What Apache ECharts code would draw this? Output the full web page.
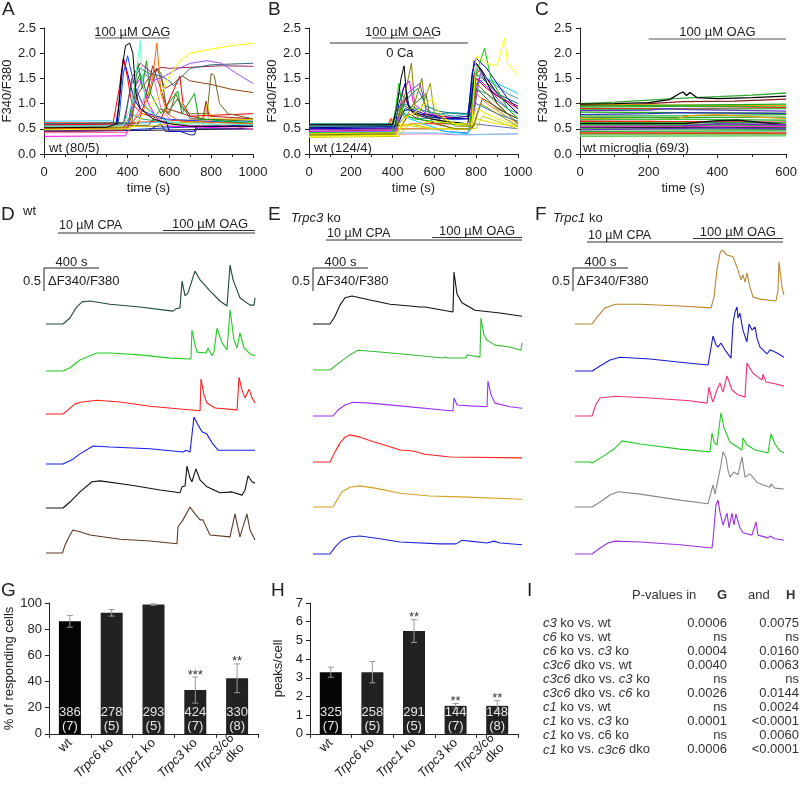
<!DOCTYPE html>
<html><head><meta charset="utf-8">
<script src="https://cdn.jsdelivr.net/npm/echarts@6/dist/echarts.min.js"></script>
<style>html,body{margin:0;padding:0;background:#fff}#c{width:800px;height:788px}</style>
</head><body><div id="c"></div>
<script>
// ===== DATA =====
// Panel A: F340/F380 vs time (s)
const aTraces = [
 [[0,0.55],[1000,0.55]],
 [[0,0.45],[500,0.47],[1000,0.5]],
 [[0,0.62],[400,0.62],[600,0.66],[1000,0.7]],
 [[0,0.47],[400,0.48],[600,0.52],[1000,0.58]],
 [[0,0.53],[380,0.54],[420,0.8],[460,0.7],[600,0.62],[1000,0.62]],
 [[0,0.65],[320,0.66],[340,0.6],[500,0.62],[1000,0.65]],
 [[0,0.35],[390,0.36],[400,0.48],[430,1.3],[460,1.5],[500,1.0],[540,0.7],[600,0.55],[1000,0.5]],
 [[0,0.45],[500,0.47],[560,0.6],[580,0.45],[650,0.45],[700,0.38],[720,0.38],[730,0.5],[1000,0.5]],
 [[0,0.48],[340,0.5],[360,1.0],[380,1.9],[400,1.6],[430,1.1],[460,0.9],[500,0.8],[580,0.7],[600,0.45],[720,0.45],[730,0.55],[1000,0.55]],
 [[0,0.5],[350,0.52],[360,0.75],[380,1.6],[400,1.95],[430,1.4],[470,1.0],[550,0.7],[1000,0.6]],
 [[0,0.42],[400,0.43],[470,1.0],[520,1.6],[560,0.9],[620,0.6],[760,0.55],[775,1.0],[790,0.6],[1000,0.5]],
 [[0,0.58],[450,0.6],[480,1.0],[520,1.75],[550,1.4],[590,0.9],[700,0.75],[760,0.7],[775,1.05],[790,0.75],[1000,0.7]],
 [[0,0.52],[500,0.55],[600,0.6],[760,0.65],[780,1.0],[800,0.7],[1000,0.68]],
 [[0,0.6],[420,0.6],[440,1.4],[460,1.6],[500,1.1],[540,1.7],[560,1.6],[590,0.8],[640,1.1],[700,0.7],[1000,0.65]],
 [[0,0.5],[400,0.52],[430,1.2],[450,1.8],[470,1.3],[490,1.85],[510,1.2],[560,0.8],[640,1.25],[660,0.8],[720,1.2],[740,0.7],[1000,0.6]],
 [[0,0.57],[330,0.6],[360,1.3],[380,1.9],[400,1.5],[420,1.0],[470,0.8],[560,0.7],[650,1.55],[665,1.0],[700,0.75],[1000,0.8]],
 [[0,0.55],[500,0.57],[560,0.9],[600,0.8],[630,1.2],[660,0.9],[700,0.8],[780,0.8],[800,1.6],[815,1.55],[840,1.0],[880,0.8],[1000,0.7]],
 [[0,0.5],[400,0.5],[450,1.2],[500,1.5],[540,1.7],[580,1.3],[620,1.4],[660,1.55],[700,1.45],[800,1.38],[900,1.28],[1000,1.22]],
 [[0,0.45],[380,0.47],[420,1.5],[460,1.8],[520,1.6],[560,1.72],[600,1.7],[700,1.72],[850,1.75],[1000,1.74]],
 [[0,0.6],[380,0.62],[420,1.4],[460,1.7],[500,1.6],[560,1.55],[600,1.45],[620,1.35],[650,1.5],[700,1.7],[800,1.77],[1000,1.8]],
 [[0,0.55],[400,0.57],[450,1.3],[480,1.6],[520,1.45],[580,1.55],[620,1.65],[700,1.8],[780,1.85],[850,1.8],[920,1.6],[1000,1.4]],
 [[0,0.5],[400,0.52],[480,0.9],[520,1.5],[540,2.2],[560,1.2],[590,0.8],[650,0.65],[1000,0.6]],
 [[0,0.55],[380,0.56],[420,1.0],[450,1.9],[460,2.25],[470,1.5],[490,0.9],[550,0.7],[650,0.6],[1000,0.58]],
 [[0,0.48],[420,0.5],[500,0.9],[560,1.2],[600,1.55],[650,1.85],[700,2.0],[800,2.08],[900,2.15],[1000,2.2]],
 [[0,0.52],[300,0.53],[350,0.6],[370,1.6],[390,2.15],[410,2.2],[425,2.0],[440,1.2],[460,0.9],[520,0.7],[600,0.6],[700,0.55],[1000,0.55]]
];
// Panel B
const bTraces = [
 [[0,0.38],[620,0.4],[700,0.38],[1000,0.4]],
 [[0,0.42],[600,0.42],[760,0.38],[1000,0.4]],
 [[0,0.5],[600,0.5],[650,0.45],[760,0.42],[790,0.6],[1000,0.5]],
 [[0,0.45],[430,0.48],[480,0.8],[520,0.7],[700,0.5],[780,0.5],[830,1.1],[950,0.8],[1000,0.7]],
 [[0,0.4],[380,0.42],[395,0.72],[410,0.5],[500,0.5],[770,0.5],[800,1.2],[850,1.0],[1000,0.6]],
 [[0,0.5],[370,0.5],[390,0.7],[410,0.55],[500,0.6],[770,0.6],[790,1.5],[820,1.7],[880,1.3],[960,1.0],[1000,0.9]],
 [[0,0.43],[410,0.45],[440,0.9],[480,0.7],[650,0.45],[760,0.4],[800,1.4],[850,1.5],[950,1.3],[1000,1.2]],
 [[0,0.45],[420,0.46],[450,1.3],[480,1.45],[500,1.0],[560,0.8],[700,0.7],[780,0.7],[810,1.5],[860,1.3],[950,1.0],[1000,0.8]],
 [[0,0.48],[420,0.5],[470,1.2],[530,1.4],[560,0.9],[650,0.6],[780,0.6],[820,1.6],[900,1.1],[1000,0.7]],
 [[0,0.55],[410,0.56],[460,1.1],[500,0.8],[760,0.7],[800,1.5],[850,1.3],[920,1.1],[1000,0.95]],
 [[0,0.52],[420,0.54],[450,0.85],[500,0.9],[560,0.85],[620,0.8],[700,0.82],[760,0.8],[790,1.3],[850,1.2],[950,0.9],[1000,0.8]],
 [[0,0.55],[420,0.56],[460,0.75],[520,0.7],[600,0.72],[700,0.68],[760,0.7],[800,1.0],[900,0.8],[1000,0.65]],
 [[0,0.52],[420,0.55],[460,0.9],[560,0.75],[650,0.7],[760,0.75],[790,1.85],[820,1.7],[900,1.2],[1000,0.8]],
 [[0,0.55],[410,0.56],[450,1.0],[520,0.9],[600,0.8],[700,0.75],[760,0.8],[800,1.7],[880,1.4],[950,1.2],[1000,1.1]],
 [[0,0.6],[400,0.6],[430,1.2],[470,1.1],[520,1.3],[560,0.95],[620,0.85],[700,0.8],[760,0.8],[790,1.6],[830,1.5],[900,1.2],[1000,1.0]],
 [[0,0.5],[410,0.52],[430,1.0],[460,1.4],[480,0.9],[550,0.8],[650,0.7],[760,0.7],[780,1.6],[800,1.9],[850,1.7],[950,1.1],[1000,0.9]],
 [[0,0.58],[400,0.58],[440,1.0],[480,0.9],[560,1.2],[580,0.7],[700,0.6],[770,0.6],[800,1.3],[900,0.9],[1000,0.7]],
 [[0,0.42],[400,0.42],[430,1.4],[450,0.8],[500,0.7],[770,0.55],[800,1.6],[840,2.1],[870,1.5],[950,0.9],[1000,0.7]],
 [[0,0.58],[400,0.58],[420,0.9],[440,1.5],[455,1.75],[470,1.0],[500,0.8],[580,0.7],[650,0.65],[760,0.6],[780,1.2],[800,1.8],[830,1.6],[900,1.0],[1000,0.6]],
 [[0,0.33],[430,0.35],[480,0.6],[600,0.5],[800,0.5],[830,0.75],[1000,0.5]],
 [[0,0.38],[420,0.4],[450,0.55],[520,0.6],[600,0.65],[700,0.6],[770,0.55],[800,0.9],[900,0.7],[1000,0.55]],
 [[0,0.4],[420,0.42],[450,0.6],[500,0.55],[600,0.5],[770,0.5],[800,0.7],[900,0.6],[1000,0.55]],
 [[0,0.36],[420,0.38],[440,0.9],[460,0.7],[500,1.0],[520,0.7],[580,1.4],[600,0.8],[700,0.55],[790,0.55],[820,1.0],[1000,0.55]],
 [[0,0.38],[410,0.4],[430,0.8],[460,1.2],[490,1.8],[505,1.0],[540,1.5],[560,0.8],[600,0.6],[700,0.5],[770,0.5],[800,1.4],[850,1.2],[950,0.8],[1000,0.6]],
 [[0,0.35],[420,0.37],[450,0.7],[500,0.8],[560,1.0],[590,1.1],[610,0.9],[650,0.7],[700,0.6],[780,0.6],[800,1.95],[850,1.8],[900,1.75],[935,2.3],[950,1.8],[1000,1.55]]
];
// Panel C (microglia)
const cTraces = [
 [[0,1.0],[100,1.03],[200,1.07],[300,1.11],[400,1.14],[500,1.17],[600,1.21]],
 [[0,0.96],[150,0.98],[300,1.04],[450,1.05],[600,1.09]],
 [[0,0.98],[300,0.97],[600,0.96]],
 [[0,0.95],[600,0.99]],
 [[0,0.93],[200,0.94],[400,0.95],[600,0.93]],
 [[0,0.9],[300,0.9],[600,0.92]],
 [[0,0.88],[600,0.9]],
 [[0,0.86],[200,0.87],[250,0.9],[320,0.88],[600,0.85]],
 [[0,0.83],[300,0.82],[600,0.81]],
 [[0,0.78],[200,0.8],[300,0.82],[600,0.8]],
 [[0,0.75],[300,0.76],[600,0.78]],
 [[0,0.72],[600,0.73]],
 [[0,0.71],[200,0.68],[280,0.7],[320,0.76],[400,0.78],[500,0.74],[600,0.7]],
 [[0,0.68],[300,0.69],[600,0.67]],
 [[0,0.65],[600,0.63]],
 [[0,0.62],[600,0.62]],
 [[0,0.6],[300,0.6],[400,0.66],[460,0.67],[600,0.58]],
 [[0,0.58],[600,0.57]],
 [[0,0.55],[300,0.56],[400,0.6],[600,0.58]],
 [[0,0.54],[600,0.55]],
 [[0,0.52],[300,0.53],[600,0.52]],
 [[0,0.5],[600,0.49]],
 [[0,0.48],[200,0.5],[400,0.52],[600,0.5]],
 [[0,0.45],[600,0.46]],
 [[0,0.42],[300,0.42],[600,0.42]],
 [[0,0.4],[250,0.4],[350,0.41],[600,0.4]],
 [[0,0.38],[600,0.38]],
 [[0,0.35],[600,0.36]],
 [[0,0.99],[100,1.0],[200,1.02],[260,1.08],[290,1.2],[300,1.23],[310,1.16],[320,1.22],[340,1.12],[400,1.1],[500,1.12],[600,1.15]]
];
// Panels D-F: ΔF340/F380 vs time (s)
const dTraces = [
 [[0,0],[124,0],[174,0.13],[218,0.35],[262,0.48],[320,0.50],[465,0.43],[683,0.37],[923,0.28],[945,0.33],[974,0.35],[989,0.93],[1011,0.61],[1032,0.67],[1083,1.15],[1120,0.96],[1192,0.72],[1265,0.50],[1316,0.39],[1330,0.41],[1338,1.28],[1360,0.96],[1410,0.57],[1483,0.41],[1512,0.41],[1520,0.57]],
 [[0,0],[124,0],[174,0.07],[247,0.24],[320,0.33],[371,0.39],[465,0.39],[683,0.35],[901,0.28],[1054,0.26],[1061,0.89],[1083,0.57],[1098,0.41],[1163,0.39],[1178,0.50],[1207,0.33],[1221,0.41],[1243,0.93],[1280,0.61],[1316,0.46],[1330,0.46],[1338,1.33],[1367,0.67],[1389,0.50],[1410,0.83],[1440,0.50],[1483,0.37],[1520,0.33]],
 [[0,0],[124,0],[160,0.09],[211,0.22],[262,0.26],[371,0.30],[538,0.26],[756,0.17],[974,0.11],[1120,0.07],[1127,0.76],[1149,0.41],[1170,0.24],[1229,0.13],[1389,0.09],[1403,0.80],[1425,0.52],[1447,0.35],[1476,0.54],[1498,0.35],[1520,0.24]],
 [[0,0],[124,0],[189,0.09],[247,0.22],[342,0.39],[465,0.37],[756,0.33],[996,0.26],[1018,0.30],[1047,0.26],[1076,1.02],[1105,0.85],[1134,0.70],[1170,0.65],[1207,0.46],[1251,0.30],[1374,0.30],[1520,0.30]],
 [[0,0],[124,0],[174,0.13],[247,0.35],[334,0.57],[393,0.59],[611,0.50],[829,0.39],[974,0.33],[989,0.46],[1011,0.48],[1025,0.91],[1047,0.65],[1061,0.57],[1090,0.85],[1120,0.61],[1170,0.46],[1265,0.33],[1352,0.35],[1425,0.28],[1447,0.39],[1469,0.70],[1498,0.57],[1520,0.54]],
 [[0,0],[120,0],[138,0.17],[174,0.39],[196,0.50],[247,0.46],[320,0.39],[538,0.30],[756,0.26],[952,0.20],[960,0.57],[996,0.72],[1047,1.00],[1083,0.85],[1120,0.72],[1141,0.72],[1192,0.39],[1338,0.35],[1374,0.85],[1410,0.35],[1461,0.85],[1483,0.50],[1520,0.28]]
];
const eTraces = [
 [[0,0],[124,0],[160,0.17],[196,0.41],[233,0.57],[284,0.61],[414,0.52],[560,0.43],[705,0.39],[778,0.37],[792,0.41],[814,0.37],[1018,0.26],[1025,1.13],[1047,0.65],[1083,0.46],[1178,0.30],[1360,0.24],[1520,0.17]],
 [[0,0],[124,0],[196,0.17],[269,0.33],[327,0.43],[487,0.39],[705,0.33],[945,0.26],[960,0.28],[981,0.26],[1112,0.26],[1120,0.33],[1214,0.28],[1221,1.13],[1243,0.76],[1265,0.65],[1323,0.54],[1432,0.50],[1512,0.43],[1520,0.59]],
 [[0,0],[145,0],[182,0.13],[233,0.24],[291,0.30],[414,0.28],[632,0.22],[1018,0.11],[1025,0.39],[1047,0.24],[1141,0.22],[1265,0.20],[1272,0.76],[1294,0.46],[1323,0.28],[1432,0.20],[1520,0.17]],
 [[0,0],[124,0],[160,0.22],[196,0.41],[233,0.54],[269,0.59],[342,0.54],[451,0.43],[560,0.33],[632,0.26],[727,0.24],[814,0.17],[996,0.11],[1520,0.09]],
 [[0,0],[145,0],[174,0.15],[211,0.33],[269,0.43],[342,0.46],[451,0.41],[632,0.30],[851,0.24],[1069,0.22],[1520,0.17]],
 [[0,0],[124,0],[160,0.15],[211,0.30],[269,0.37],[342,0.39],[487,0.33],[632,0.26],[923,0.22],[1040,0.22],[1083,0.30],[1141,0.28],[1265,0.24],[1316,0.28],[1360,0.24],[1520,0.20]]
];
const fTraces = [
 [[0,0],[124,0],[167,0.17],[218,0.35],[291,0.43],[473,0.43],[763,0.39],[989,0.35],[1011,0.59],[1032,1.17],[1054,1.54],[1069,1.61],[1105,1.50],[1149,1.46],[1185,1.17],[1207,0.96],[1221,1.07],[1236,0.91],[1250,1.11],[1272,0.80],[1294,0.59],[1345,0.54],[1461,0.50],[1476,0.74],[1483,1.35],[1505,0.80],[1519,0.63]],
 [[0,0],[124,0],[182,0.11],[254,0.24],[327,0.30],[545,0.26],[836,0.17],[967,0.13],[1003,0.76],[1025,0.57],[1040,0.52],[1061,0.61],[1090,0.46],[1134,0.28],[1149,1.04],[1163,1.28],[1178,1.39],[1185,1.15],[1199,1.26],[1221,0.89],[1250,0.63],[1265,1.02],[1287,0.89],[1309,0.96],[1323,0.72],[1345,0.52],[1396,0.37],[1418,0.46],[1469,0.39],[1519,0.30]],
 [[0,0],[124,0],[153,0.26],[182,0.39],[291,0.43],[545,0.39],[836,0.33],[960,0.28],[974,0.63],[989,0.43],[1003,0.30],[1032,0.57],[1054,0.72],[1076,0.52],[1105,0.87],[1141,0.57],[1185,0.46],[1236,0.41],[1250,1.15],[1272,1.04],[1294,0.93],[1360,0.78],[1367,0.91],[1389,0.74],[1454,0.70],[1519,0.65]],
 [[0,0],[109,0],[124,-0.02],[218,0.15],[291,0.30],[342,0.46],[473,0.39],[763,0.28],[981,0.22],[996,0.63],[1011,0.43],[1032,0.37],[1061,1.07],[1083,0.74],[1127,0.43],[1214,0.26],[1221,0.52],[1250,0.37],[1309,0.26],[1403,0.20],[1425,0.61],[1454,0.39],[1490,0.24],[1519,0.20]],
 [[0,0],[124,0],[182,0.11],[254,0.26],[313,0.33],[473,0.28],[763,0.15],[967,0.07],[1003,0.48],[1018,0.28],[1032,0.26],[1061,0.91],[1076,1.20],[1098,1.07],[1112,0.80],[1127,0.65],[1156,0.76],[1185,0.70],[1214,1.09],[1236,0.65],[1272,0.72],[1323,0.54],[1367,0.48],[1418,0.43],[1425,0.50],[1454,0.41],[1519,0.39]],
 [[0,0],[124,0],[182,0.13],[240,0.24],[291,0.28],[473,0.26],[763,0.20],[996,0.13],[1003,0.30],[1025,1.07],[1040,1.17],[1054,0.91],[1076,0.63],[1105,0.89],[1120,0.57],[1141,0.89],[1156,0.63],[1170,0.87],[1199,0.57],[1221,0.46],[1287,0.41],[1316,0.70],[1330,0.41],[1403,0.35],[1418,0.39],[1454,0.33],[1519,0.30]]
];
// application periods (s)
const aOAG = [245, 600];
const bOAG = [300, 600];
const bZeroCa = [100, 760];
const cOAG = [200, 600];
const dCPA = [87, 1520], dOAG = [851, 1520];
const eCPA = [95, 1520], eOAG = [865, 1520];
const fCPA = [87, 1512], fOAG = [858, 1512];
const scaleBarTime = 400, scaleBarRatio = 0.5;
// Panels G, H
const groups = ['wt', 'Trpc6 ko', 'Trpc1 ko', 'Trpc3 ko', 'Trpc3/c6 dko'];
const respondMean = [86, 92.5, 98.8, 33.5, 42.5];
const respondErr = [4.5, 2.5, 0.5, 10, 11];
const respondCells = ['386', '278', '293', '424', '330'];
const respondMice = ['(7)', '(5)', '(5)', '(7)', '(8)'];
const respondStars = ['', '', '', '***', '**'];
const peaksMean = [3.3, 3.3, 5.5, 1.5, 1.5];
const peaksErr = [0.27, 0.57, 0.61, 0.13, 0.28];
const peaksCells = ['325', '258', '291', '144', '148'];
const peaksMice = ['(7)', '(5)', '(5)', '(7)', '(8)'];
const peaksStars = ['', '', '**', '**', '**'];
// Panel I
const pComparisons = ['{i|c3} ko vs. wt', '{i|c6} ko vs. wt', '{i|c6} ko vs. {i|c3} ko', '{i|c3c6} dko vs. wt', '{i|c3c6} dko vs. {i|c3} ko', '{i|c3c6} dko vs. {i|c6} ko', '{i|c1} ko vs. wt', '{i|c1} ko vs. {i|c3} ko', '{i|c1} ko vs. c6 ko', '{i|c1} ko vs. {i|c3c6} dko'];
const pValuesG = ['0.0006', 'ns', '0.0004', '0.0040', 'ns', '0.0026', 'ns', '0.0001', 'ns', '0.0006'];
const pValuesH = ['0.0075', 'ns', '0.0160', '0.0063', 'ns', '0.0144', '0.0024', '<0.0001', '0.0060', '<0.0001'];

// ===== STYLE / LAYOUT =====
const FONT = '"Liberation Sans", Arial, Helvetica, sans-serif';
const TXT = '#222';
const aColors = ['#666666','#222222','#ff3333','#0033cc','#33aa55','#33ccff','#ff00ff','#202080','#0000cc','#1144ff','#ff66aa','#aa2222','#ddcc00','#336633','#00aa00','#ff0000','#6b6b23','#8b4513','#a0205a','#2f6f7f','#9955ff','#ff6600','#66ffcc','#ffff00','#000000'];
const bColors = ['#ff77bb','#66ccff','#6666cc','#993300','#ff8800','#ff2222','#00ccff','#ff00ff','#8833cc','#990033','#1f9aa0','#2b7bb9','#000080','#3399aa','#008080','#0000cc','#2e6b2e','#00cc00','#000000','#cccc00','#e8e800','#e0e000','#999900','#808000','#ffff00'];
const cColors = ['#33aa33','#8b1a1a','#ffa500','#22aa22','#33aa33','#ee2222','#44bb44','#6633cc','#22aa22','#3333bb','#33aa33','#22aa22','#e6a117','#44bb44','#ee2222','#33aa33','#111111','#22aa22','#7722cc','#ff33cc','#222222','#33aa33','#6633cc','#22aa22','#ff2222','#aa5500','#66cc66','#66cc66','#000000'];
const dColors = ['#1e4a35','#22cc22','#ff2020','#1a1aee','#111111','#5b3b28'];
const eColors = ['#111111','#33bb33','#9933ff','#ff2222','#d4a020','#2222dd'];
const fColors = ['#b8862b','#1a1acc','#ee3377','#22cc22','#888888','#9933dd'];

const chart = echarts.init(document.getElementById('c'), null, {renderer: 'canvas'});

const grids = [], xAxes = [], yAxes = [], series = [];
function axisCommon() {
  return {
    axisLine: {show: true, onZero: false, lineStyle: {color: '#222', width: 1}},
    axisTick: {show: true, inside: false, length: 4, lineStyle: {color: '#222'}},
    axisLabel: {color: TXT, fontSize: 13, fontFamily: FONT},
    splitLine: {show: false},
    nameTextStyle: {color: TXT, fontSize: 13, fontFamily: FONT}
  };
}
// top panels
const topPanels = [
  {left: 44, max: 1000, traces: aTraces, colors: aColors},
  {left: 309, max: 1000, traces: bTraces, colors: bColors},
  {left: 580, max: 600, traces: cTraces, colors: cColors}
];
topPanels.forEach((p, i) => {
  grids.push({left: p.left, top: 28, width: 209, height: 126});
  xAxes.push(Object.assign(axisCommon(), {
    type: 'value', gridIndex: i, min: 0, max: p.max, interval: 200,
    minorTick: {show: true, splitNumber: 2, length: 3, lineStyle: {color: '#222'}},
    name: 'time (s)', nameLocation: 'middle', nameGap: 28,
    axisLabel: {color: TXT, fontSize: 13, fontFamily: FONT, margin: 12, formatter: v => String(v)}
  }));
  yAxes.push(Object.assign(axisCommon(), {
    type: 'value', gridIndex: i, min: 0, max: 2.5, interval: 0.5,
    name: 'F340/F380', nameLocation: 'middle', nameGap: 26,
    axisLabel: {color: TXT, fontSize: 13, fontFamily: FONT, margin: 8, formatter: v => v.toFixed(1)}
  }));
  p.traces.forEach((tr, k) => {
    series.push({type: 'line', xAxisIndex: i, yAxisIndex: i, data: tr, showSymbol: false, silent: true,
      lineStyle: {color: p.colors[k % p.colors.length], width: i === 2 ? 1.3 : 1}, animation: false});
  });
});
// trace panels D-F
const tracePanels = [
  {left: 46, base: [324, 371, 414, 464, 508, 553], traces: dTraces, colors: dColors},
  {left: 313, base: [324, 370, 416, 462, 507, 554], traces: eTraces, colors: eColors},
  {left: 575, base: [324, 371, 416, 462, 507, 554], traces: fTraces, colors: fColors}
];
const PXU = 46, TMAX = 1530, SPX = 7.27;
tracePanels.forEach(p => {
  p.traces.forEach((tr, k) => {
    const gi = grids.length;
    grids.push({left: p.left, top: p.base[k] - 1.7 * PXU, width: TMAX / SPX, height: 1.8 * PXU});
    xAxes.push({type: 'value', gridIndex: gi, min: 0, max: TMAX, show: false});
    yAxes.push({type: 'value', gridIndex: gi, min: -0.1, max: 1.7, show: false});
    series.push({type: 'line', xAxisIndex: gi, yAxisIndex: gi, data: tr, showSymbol: false, silent: true,
      lineStyle: {color: p.colors[k], width: 1.1}, animation: false});
  });
});
// bar panels G, H
const catLabel = v => {
  if (v === 'wt') return 'wt';
  if (v === 'Trpc3/c6 dko') return '{i|Trpc3/c6}\ndko';
  const parts = v.split(' ');
  return '{i|' + parts[0] + '} ' + parts[1];
};
const barPanels = [
  {left: 49, width: 209, max: 100, interval: 20, name: '% of responding cells', gap: 33, mean: respondMean, err: respondErr, cells: respondCells, mice: respondMice, stars: respondStars},
  {left: 310, width: 208, max: 7, interval: 1, name: 'peaks/cell', gap: 25, mean: peaksMean, err: peaksErr, cells: peaksCells, mice: peaksMice, stars: peaksStars}
];
barPanels.forEach(p => {
  const gi = grids.length;
  grids.push({left: p.left, top: 603, width: p.width, height: 138});
  xAxes.push(Object.assign(axisCommon(), {
    type: 'category', gridIndex: gi, data: groups,
    axisLabel: {color: TXT, fontSize: 13, fontFamily: FONT, rotate: 45, interval: 0, margin: 7,
      formatter: catLabel, lineHeight: 14, rich: {i: {fontStyle: 'italic', fontSize: 13, fontFamily: FONT, color: TXT}}}
  }));
  yAxes.push(Object.assign(axisCommon(), {
    type: 'value', gridIndex: gi, min: 0, max: p.max, interval: p.interval,
    name: p.name, nameLocation: 'middle', nameGap: p.gap,
    axisLabel: {color: TXT, fontSize: 13, fontFamily: FONT, margin: 7}
  }));
  series.push({type: 'bar', xAxisIndex: gi, yAxisIndex: gi, barWidth: 22, silent: true, animation: false,
    data: p.mean.map((m, i) => ({value: m, itemStyle: {color: i === 0 ? '#050505' : '#222222'}})),
    label: {show: true, position: 'insideBottom', distance: 0, color: '#e6e6e6', fontSize: 13, fontFamily: FONT, lineHeight: 14,
      formatter: q => p.cells[q.dataIndex] + '\n' + p.mice[q.dataIndex]}
  });
  series.push({type: 'custom', xAxisIndex: gi, yAxisIndex: gi, silent: true, animation: false, z: 5,
    data: p.mean.map((m, i) => [i, m, p.err[i]]),
    renderItem: (params, api) => {
      const x = api.value(0), m = api.value(1), e = api.value(2);
      const top = api.coord([x, m + e]), bot = api.coord([x, m - e]);
      const w = 3, st = {stroke: '#9a9a9a', lineWidth: 1};
      const ch = [
        {type: 'line', shape: {x1: top[0], y1: top[1], x2: bot[0], y2: bot[1]}, style: st},
        {type: 'line', shape: {x1: top[0] - w, y1: top[1], x2: top[0] + w, y2: top[1]}, style: st},
        {type: 'line', shape: {x1: bot[0] - w, y1: bot[1], x2: bot[0] + w, y2: bot[1]}, style: st}
      ];
      const s = p.stars[params.dataIndex];
      if (s) ch.push({type: 'text', style: {text: s, x: top[0], y: top[1] - 2, align: 'center', verticalAlign: 'middle', fill: '#333', fontSize: 13, fontFamily: FONT}});
      return {type: 'group', children: ch};
    }
  });
});

chart.setOption({animation: false, backgroundColor: '#fff', grid: grids, xAxis: xAxes, yAxis: yAxes, series: series});

// ===== annotations (graphic) =====
const G = [];
function txt(x, y, text, o) {
  o = o || {};
  G.push({type: 'text', x: x, y: y, silent: true, z: 50, style: Object.assign({
    text: text, fontSize: 13, fontFamily: FONT, fill: TXT,
    align: o.align || 'left', textAlign: o.align || 'left',
    verticalAlign: 'middle', textVerticalAlign: 'middle'}, o.style || {})});
}
function hline(x1, x2, y, color, w) {
  G.push({type: 'line', silent: true, z: 50, shape: {x1: x1, y1: y, x2: x2, y2: y}, style: {stroke: color || '#333', lineWidth: w || 1}});
}
function vline(x, y1, y2) {
  G.push({type: 'line', silent: true, z: 50, shape: {x1: x, y1: y1, x2: x, y2: y2}, style: {stroke: '#222', lineWidth: 1}});
}
const px = (gi, pt) => chart.convertToPixel({xAxisIndex: gi, yAxisIndex: gi}, pt);
const LBL = {fontSize: 19};
// panel letters
txt(2, 10, 'A', {style: LBL});
txt(268, 10, 'B', {style: LBL});
txt(535, 10, 'C', {style: LBL});
txt(1, 215, 'D', {style: LBL});
txt(268, 215, 'E', {style: LBL});
txt(535, 215, 'F', {style: LBL});
txt(1, 591, 'G', {style: LBL});
txt(271, 591, 'H', {style: LBL});
txt(527, 591, 'I', {style: LBL});
// top panel drug bars
function period(gi, rng) { const a = px(gi, [rng[0], 0])[0], b = px(gi, [rng[1], 0])[0]; return [a, b]; }
let r = period(0, aOAG); hline(r[0], r[1], 38, '#555'); txt((r[0] + r[1]) / 2, 32, '100 µM OAG', {align: 'center'});
r = period(1, bOAG); hline(r[0], r[1], 38, '#555'); txt((r[0] + r[1]) / 2, 32, '100 µM OAG', {align: 'center'});
r = period(1, bZeroCa); hline(r[0], r[1], 43, '#333'); txt((r[0] + r[1]) / 2 + 1, 53, '0 Ca', {align: 'center'});
r = period(2, cOAG); hline(r[0], r[1], 39, '#555'); txt((r[0] + r[1]) / 2, 32, '100 µM OAG', {align: 'center'});
txt(49, 148, 'wt (80/5)');
txt(314, 148, 'wt (124/4)');
txt(583, 148, 'wt microglia (69/3)');
// trace panels annotations
const trInfo = [
  {gi: 3, cpa: dCPA, oag: dOAG, cpaY: 233, oagY: 230.5, cpaTY: 226, oagTY: 224, sx: 44, label: 'wt', lx: 23, ly: 211},
  {gi: 9, cpa: eCPA, oag: eOAG, cpaY: 240, oagY: 237.5, cpaTY: 234, oagTY: 231, sx: 313, label: '{i|Trpc3} ko', lx: 291, ly: 218},
  {gi: 15, cpa: fCPA, oag: fOAG, cpaY: 242, oagY: 238.5, cpaTY: 236, oagTY: 232, sx: 573, label: '{i|Trpc1} ko', lx: 553, ly: 218}
];
trInfo.forEach(t => {
  let c = period(t.gi, t.cpa), o = period(t.gi, t.oag);
  hline(c[0], c[1], t.cpaY, '#333');
  hline(o[0], o[1], t.oagY, '#333');
  txt(c[0] + 1, t.cpaTY, '10 µM CPA', {style: {fontSize: 12.5}});
  txt(o[1] - 7, t.oagTY, '100 µM OAG', {align: 'right', style: {fontSize: 13}});
  txt(t.lx, t.ly, t.label, {style: {rich: {i: {fontStyle: 'italic', fontSize: 13, fontFamily: FONT, fill: TXT}}}});
  const p0 = px(t.gi, [0, 0]), p1 = px(t.gi, [scaleBarTime, scaleBarRatio]);
  const len = p1[0] - p0[0], hgt = p0[1] - p1[1];
  const top = 268;
  hline(t.sx, t.sx + len, top, '#222');
  vline(t.sx, top, top + hgt);
  txt(t.sx + len / 2, 262, scaleBarTime + ' s', {align: 'center'});
  txt(t.sx - 3, 281, String(scaleBarRatio), {align: 'right'});
  txt(t.sx + 4, 281, 'ΔF340/F380');
});
// panel I table
txt(632, 595, 'P-values in', {style: {fill: '#333'}});
txt(717, 595, 'G', {style: {fontWeight: 'bold', fill: '#333'}});
txt(748, 595, 'and', {style: {fill: '#333'}});
txt(786, 595, 'H', {style: {fontWeight: 'bold', fill: '#333'}});
pComparisons.forEach((s, i) => {
  const y = 623 + i * 14.1;
  txt(543, y, s, {style: {fill: '#333', rich: {i: {fontStyle: 'italic', fontSize: 13, fontFamily: FONT, fill: '#333'}}}});
  txt(727, y, pValuesG[i], {align: 'right', style: {fill: '#333'}});
  txt(799, y, pValuesH[i], {align: 'right', style: {fill: '#333'}});
});
chart.setOption({graphic: {elements: G}});
</script></body></html>
